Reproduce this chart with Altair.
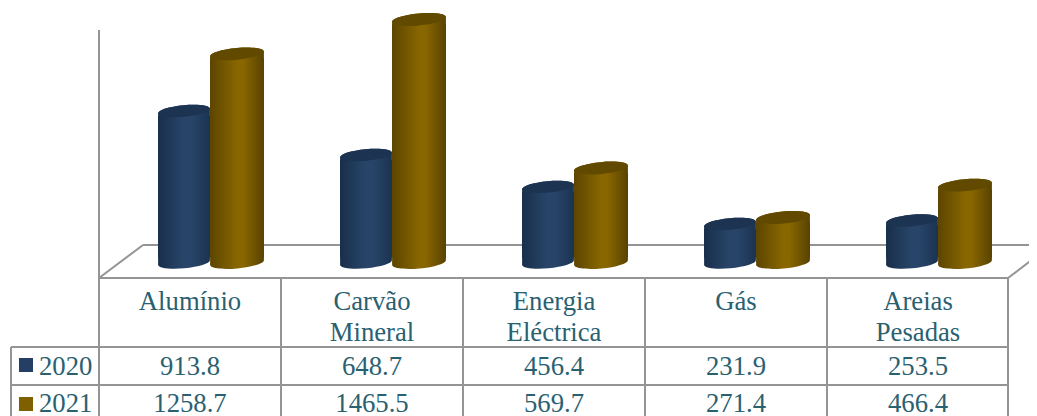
import altair as alt
import pandas as pd

categories = ["Alumínio", "Carvão\nMineral", "Energia\nEléctrica", "Gás", "Areias\nPesadas"]
years = ["2020", "2021"]
values_2020 = [913.8, 648.7, 456.4, 231.9, 253.5]
values_2021 = [1258.7, 1465.5, 569.7, 271.4, 466.4]

W, H = 1021, 408
LINE = "#949494"
TEXT = "#2A6171"
FONT = "Liberation Serif"


def grad(a, b, c):
    return alt.LinearGradient(
        gradient="linear", x1=0, x2=1, y1=0, y2=0,
        stops=[alt.GradientStop(offset=0, color=a),
               alt.GradientStop(offset=0.5, color=b),
               alt.GradientStop(offset=0.62, color=b),
               alt.GradientStop(offset=1, color=c)],
    )


ELLIPSE = "M-0.996,0.092 A1 0.22 -5.3 1 1 0.996,-0.092 A1 0.22 -5.3 1 1 -0.996,0.092 Z"
BOTTOM_CAP = "M-0.996,-0.4 L-0.996,0.092 A1 0.22 -5.3 1 0 0.996,-0.092 L0.996,-0.4 Z"
TOP_CAP = "M-0.996,0.4 L-0.996,0.092 A1 0.22 -5.3 1 1 0.996,-0.092 L0.996,0.4 Z"

styles = {
    "2020": dict(body=grad("#182F4B", "#284569", "#1B3352"), top="#1C3352", square="#243F63", x0=0.3242, w=0.2857),
    "2021": dict(body=grad("#5C4500", "#886600", "#584200"), top="#614900", square="#7F6000", x0=0.6099, w=0.2967),
}

rows = []
for i, c in enumerate(categories):
    rows.append({"cat": c, "i": i, "year": "2020", "v": values_2020[i]})
    rows.append({"cat": c, "i": i, "year": "2021", "v": values_2021[i]})
df = pd.DataFrame(rows)

xs = alt.Scale(domain=[0, 5], range=[91, 1001], nice=False, zero=False)
ys = alt.Scale(domain=[-925.8, 1535.0], nice=False, zero=False)
X = lambda f: alt.X(f, type="quantitative", scale=xs, axis=None)
Y = lambda f: alt.Y(f, type="quantitative", scale=ys, axis=None)


def seg(x1, y1, x2, y2):
    """frame line between two page positions"""
    return alt.Chart(df.head(1)).mark_rule(color=LINE, strokeWidth=2).encode(
        x=alt.value(x1 - 8), x2=alt.value(x2 - 8), y=alt.value(y1 - 8), y2=alt.value(y2 - 8)
    )


frame = [
    seg(99, 30, 99, 420),        # wall and first column
    seg(99, 278, 1008, 278),     # floor front
    seg(143, 245, 1037, 245),    # floor back
    seg(99, 278, 143, 245),      # floor left
    seg(1008, 278, 1037, 256),   # floor right
    seg(1008, 278, 1008, 420),   # right edge
    seg(11, 347, 1008, 347),     # row lines
    seg(11, 385, 1008, 385),
    seg(11, 347, 11, 420),
]
for k in range(1, 5):
    x = 99 + 182 * k
    frame.append(seg(x, 278, x, 420))

layers = list(frame)

for yr in years:
    st = styles[yr]
    sub = df[df.year == yr]
    base = alt.Chart(sub).transform_calculate(
        x0=f"datum.i + {st['x0']}",
        x1=f"datum.i + {st['x0'] + st['w']}",
        xc=f"datum.i + {st['x0'] + st['w'] / 2}",
        zero="0",
    )
    size = (st["w"] * 182) ** 2
    point = dict(filled=True, opacity=1, size=size, strokeWidth=0)
    layers.append(base.mark_point(shape=BOTTOM_CAP, fill=st["body"], **point)
                  .encode(x=X("xc"), y=Y("zero")))
    layers.append(base.mark_bar(fill=st["body"], strokeWidth=0, yOffset=5, y2Offset=-5)
                  .encode(x=X("x0"), x2="x1:Q", y=Y("v"), y2="zero:Q"))
    layers.append(base.mark_point(shape=TOP_CAP, fill=st["body"], **point)
                  .encode(x=X("xc"), y=Y("v")))
    layers.append(base.mark_point(shape=ELLIPSE, fill=st["top"], **point)
                  .encode(x=X("xc"), y=Y("v")))

txt = dict(font=FONT, fontSize=26.7, color=TEXT, baseline="alphabetic")
cats = alt.Chart(df[df.year == "2020"]).transform_calculate(xm="datum.i + 0.5")
layers.append(cats.mark_text(align="center", lineBreak="\n", lineHeight=30.5, **txt)
              .encode(x=X("xm"), y=alt.value(310 - 8), text="cat:N"))

for yr, base_y, sq_y in zip(years, [375, 412], [365, 404]):
    sub = df[df.year == yr]
    b = alt.Chart(sub).transform_calculate(xm="datum.i + 0.5")
    layers.append(b.mark_text(align="center", **txt)
                  .encode(x=X("xm"), y=alt.value(base_y - 8), text=alt.Text("v:Q", format=".1f")))
    one = alt.Chart(sub.head(1))
    layers.append(one.mark_text(align="left", **txt)
                  .encode(x=alt.value(39 - 8), y=alt.value(base_y - 8), text="year:N"))
    layers.append(one.mark_point(shape="square", filled=True, opacity=1, size=196, fill=styles[yr]["square"], strokeWidth=0)
                  .encode(x=alt.value(26 - 8), y=alt.value(sq_y - 8)))

chart = alt.layer(*layers).properties(
    width=W, height=H, padding=0,
    autosize=alt.AutoSizeParams(type="none"),
).configure_view(stroke=None)

chart.save("out.html", embed_options={"renderer": "svg", "actions": False})
